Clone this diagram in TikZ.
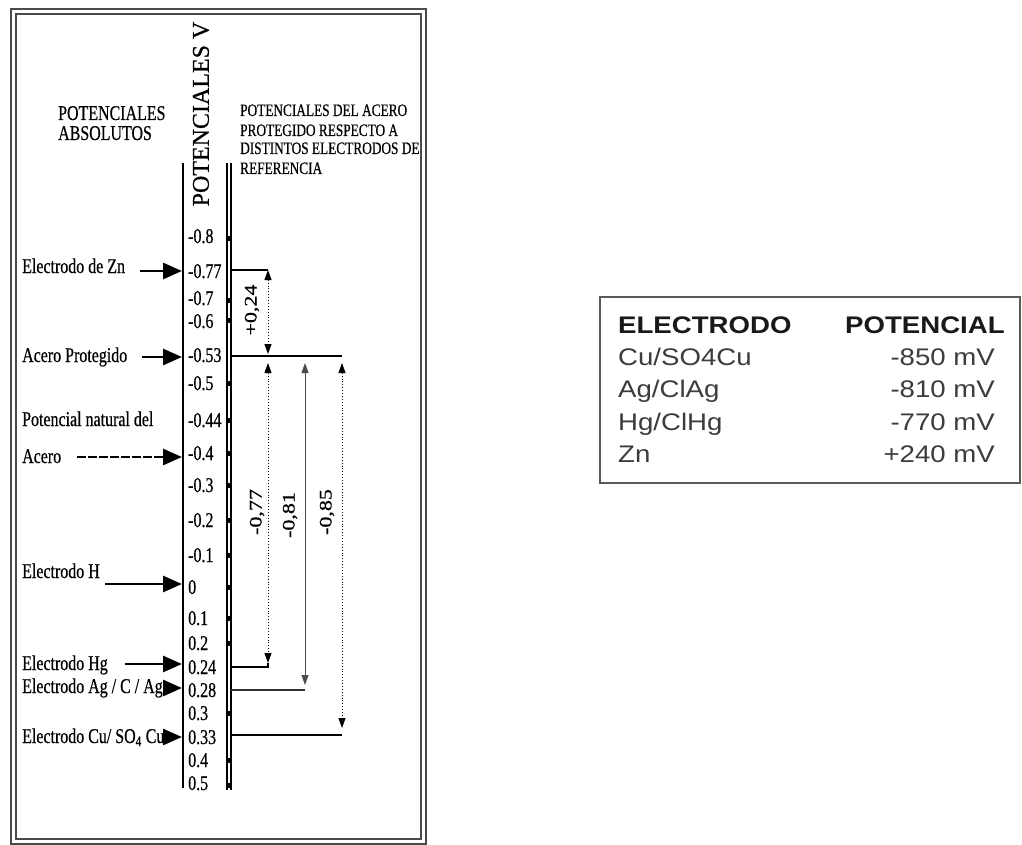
\documentclass[tikz,border=0pt]{standalone}
\usepackage{fontspec}
\setmainfont{Liberation Serif}
\newfontfamily\cond[FakeStretch=0.76,FakeBold=0.5]{Liberation Serif}
\newfontfamily\rotf[FakeBold=0.5]{Liberation Serif}
\newfontfamily\tabf[FakeStretch=1.15]{Liberation Sans}
\usetikzlibrary{arrows.meta}
\definecolor{framegray}{HTML}{4A4A4A}
\definecolor{tabgray}{HTML}{5A5A5A}
\definecolor{rowgray}{HTML}{3C3C3C}
\begin{document}
\begin{tikzpicture}[x=1pt,y=-1pt,
  lab/.style={font=\cond\fontsize{21}{21}\selectfont, anchor=base west, inner sep=0pt},
  tk/.style={font=\cond\fontsize{21}{21}\selectfont, anchor=base west, inner sep=0pt},
  hdr/.style={font=\cond\fontsize{17.5}{17.5}\selectfont, anchor=base west, inner sep=0pt},
  rl/.style={rotate=90, font=\rotf\fontsize{22}{22}\selectfont, inner sep=0pt},
  bigarr/.style={line width=2.8pt, -{Triangle[length=19pt,width=16pt]}},
  dimarr/.style={line width=0.9pt, dotted, {Triangle[length=10pt,width=7pt]}-{Triangle[length=10pt,width=7pt]}},
  solarr/.style={line width=1pt, black!70, {Triangle[length=10pt,width=7pt]}-{Triangle[length=10pt,width=7pt]}},
  tbh/.style={font=\tabf\bfseries\fontsize{24}{24}\selectfont, inner sep=0pt, text=black!90},
  tb/.style={font=\tabf\fontsize{24}{24}\selectfont, inner sep=0pt, text=rowgray},
]
\fill[white] (0,0) rectangle (1022,845);
\useasboundingbox (0,0) rectangle (1022,845);

% frame of the left diagram
\draw[framegray, line width=1.6pt] (11,9) rectangle (426,844);
\draw[framegray, line width=1.2pt] (16,14) rectangle (421,839);

% axis
\draw[line width=2pt] (183,163) -- (183,788);
\draw[line width=1.2pt] (227,163) -- (227,790);
\draw[line width=1.2pt] (231,163) -- (231,790);
\foreach \y in {238,300,320,383,420,453,485,520,555,587,618,643,713,760,785}
  \fill (226,{\y-2.5}) rectangle (232,{\y+2.5});

% vertical title
\node[rotate=90, font=\rotf\fontsize{24}{24}\selectfont, inner sep=0pt] (pv) at (201,114) {POTENCIALES V};

% headers
\node[lab] (pa1) at (58,120) {POTENCIALES};
\node[lab] (pa2) at (58,140) {ABSOLUTOS};
\node[hdr] (h1) at (240,116) {POTENCIALES DEL ACERO};
\node[hdr] (h2) at (240,136) {PROTEGIDO RESPECTO A};
\node[hdr] (h3) at (240,154) {DISTINTOS ELECTRODOS DE};
\node[hdr] (h4) at (240,174) {REFERENCIA};

% tick labels
\foreach \t/\y [count=\i] in {-0.8/236,-0.77/271,-0.7/298,-0.6/321,-0.53/355,-0.5/383,-0.44/420,-0.4/453,-0.3/485,-0.2/520,-0.1/555,0/587,0.1/618,0.2/643,0.24/667,0.28/690,0.3/713,0.33/737,0.4/760,0.5/783}
  \node[tk] (t\i) at (188,{\y+7}) {\t};

% left labels
\node[lab] (lZn) at (22,273) {Electrodo de Zn};
\node[lab] (lAP) at (22,362) {Acero Protegido};
\node[lab] (lPN) at (22,426) {Potencial natural del};
\node[lab] (lAc) at (22,463) {Acero};
\node[lab] (lH) at (22,578) {Electrodo H};
\node[lab] (lHg) at (22,670) {Electrodo Hg};
\node[lab] (lAg) at (22,693) {Electrodo Ag / C / Ag};
\node[lab] (lCu) at (22,743) {Electrodo Cu/ SO\textsubscript{4} Cu};

% arrow start / end points
\coordinate (sZn) at (140,271); \coordinate (aZn) at (182,271);
\coordinate (sAP) at (142,357); \coordinate (aAP) at (182,357);
\coordinate (sAc) at (77,457);  \coordinate (aAc) at (182,457);
\coordinate (sH)  at (105,584); \coordinate (aH)  at (182,584);
\coordinate (sHg) at (125,664); \coordinate (aHg) at (182,664);
\coordinate (sAg) at (163,688); \coordinate (aAg) at (182,688);
\coordinate (sCu) at (165,737); \coordinate (aCu) at (182,737);
\draw[bigarr] (sZn) -- (aZn);
\draw[bigarr] (sAP) -- (aAP);
\draw[bigarr, dash pattern=on 9pt off 2pt] (sAc) -- (aAc);
\draw[bigarr] (sH) -- (aH);
\draw[bigarr] (sHg) -- (aHg);
\draw[bigarr] (sAg) -- (aAg);
\draw[bigarr] (sCu) -- (aCu);

% right-hand reference lines
\coordinate (rZn) at (231,270);  \coordinate (eZn) at (268,270);
\coordinate (rAP) at (231,356);  \coordinate (eAP) at (342,356);
\coordinate (rHg) at (231,667);
\coordinate (rAg) at (231,690);  \coordinate (eAg) at (305,690);
\coordinate (rCu) at (231,735);  \coordinate (eCu) at (342,735);
\draw[line width=1.5pt] (rZn) -- (eZn);
\draw[line width=2.5pt] (rAP) -- (eAP);
\draw[line width=1.3pt, black!80] (rAg) -- (eAg);
\draw[line width=1.6pt] (rCu) -- (eCu);

% dimension arrows
\coordinate (d1a) at (268,270); \coordinate (d1b) at (268,354);
\coordinate (d2a) at (268,363); \coordinate (d2b) at (268,663);
\coordinate (d3a) at (305,363); \coordinate (d3b) at (305,685);
\coordinate (d4a) at (342,363); \coordinate (d4b) at (342,728);
\draw[dimarr] (d1a) -- (d1b);
\draw[dimarr] (d2a) -- (d2b);
\draw[solarr] (d3a) -- (d3b);
\draw[dimarr] (d4a) -- (d4b);
\draw[line width=2.5pt] (rHg) -| (d2b);

% rotated values
\node[rl] (v1) at (252,310) {\scalebox{1}[0.8]{+0,24}};
\node[rl] (v2) at (257,512) {\scalebox{1}[0.8]{-0,77}};
\node[rl] (v3) at (290,515) {\scalebox{1}[0.8]{-0,81}};
\node[rl] (v4) at (327,512) {\scalebox{1}[0.8]{-0,85}};

% table
\draw[tabgray, line width=2pt] (600,297) rectangle (1020,483);
\node[tbh, anchor=base west] (th1) at (618,333) {ELECTRODO};
\node[tbh, anchor=base west] (th2) at (845,333) {POTENCIAL};
\node[tb, anchor=base west] (e1) at (618,365) {Cu/SO4Cu};
\node[tb, anchor=base west] (e2) at (618,397) {Ag/ClAg};
\node[tb, anchor=base west] (e3) at (618,430) {Hg/ClHg};
\node[tb, anchor=base west] (e4) at (618,462) {Zn};
\node[tb, anchor=base east] (p1) at (995,365) {-850 mV};
\node[tb, anchor=base east] (p2) at (995,397) {-810 mV};
\node[tb, anchor=base east] (p3) at (995,430) {-770 mV};
\node[tb, anchor=base east] (p4) at (995,462) {+240 mV};
\end{tikzpicture}
\end{document}
